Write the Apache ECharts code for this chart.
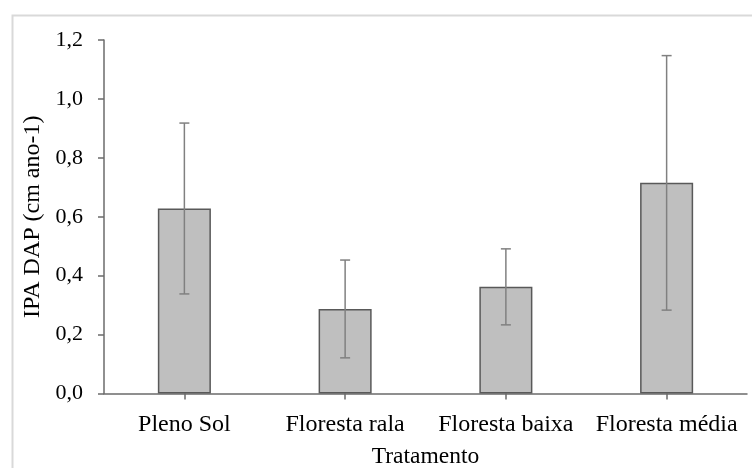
<!DOCTYPE html>
<html>
<head>
<meta charset="utf-8">
<script src="https://cdn.jsdelivr.net/npm/echarts@6/dist/echarts.min.js"></script>
<style>html,body{margin:0;padding:0;background:#fff}#c{width:752px;height:468px}</style>
</head>
<body>
<div id="c"></div>
<script>
const categories = ['Pleno Sol', 'Floresta rala', 'Floresta baixa', 'Floresta média'];
const means = [0.628, 0.287, 0.362, 0.715];
const errors = [0.290, 0.166, 0.129, 0.432];
const yTicks = [0, 0.2, 0.4, 0.6, 0.8, 1.0, 1.2];

const FONT = '"Liberation Serif", "Times New Roman", serif';
const chart = echarts.init(document.getElementById('c'));
const errData = categories.map((c, i) => [i, means[i] - errors[i], means[i] + errors[i]]);

chart.setOption({
  animation: false,
  backgroundColor: '#fff',
  graphic: [{
    type: 'rect', left: 10, top: 13, silent: true, z: -10,
    shape: { x: 0, y: 0, width: 800, height: 500 },
    style: { fill: 'none', stroke: '#d9d9d9', lineWidth: 2 }
  }],
  grid: { left: 104, right: 5, top: 40, bottom: 74.5, containLabel: false, outerBoundsMode: 'none' },
  xAxis: {
    type: 'category',
    data: categories,
    name: 'Tratamento',
    nameLocation: 'middle',
    nameGap: 51,
    nameTextStyle: { fontFamily: FONT, fontSize: 23.5, color: '#000' },
    axisLine: { lineStyle: { color: '#6b6b6b', width: 1.5 } },
    axisTick: { show: true, alignWithLabel: true, length: 6, lineStyle: { color: '#6b6b6b', width: 1.5 } },
    axisLabel: { fontFamily: FONT, fontSize: 24, color: '#000', margin: 19, interval: 0 },
    splitLine: { show: false }
  },
  yAxis: {
    type: 'value',
    min: 0, max: 1.2, interval: 0.2,
    name: 'IPA DAP (cm ano-1)',
    nameLocation: 'middle',
    nameGap: 58,
    nameRotate: 90,
    nameTextStyle: { fontFamily: FONT, fontSize: 24, color: '#000' },
    axisLine: { show: true, lineStyle: { color: '#6b6b6b', width: 1.5 } },
    axisTick: { show: true, length: 6, lineStyle: { color: '#6b6b6b', width: 1.5 } },
    axisLabel: {
      fontFamily: FONT, fontSize: 22, color: '#000', margin: 21,
      formatter: v => {
        const t = yTicks.find(x => Math.abs(x - v) < 1e-9);
        return (t !== undefined ? t : v).toFixed(1).replace('.', ',');
      }
    },
    splitLine: { show: false }
  },
  series: [
    {
      type: 'bar',
      data: means,
      barWidth: '33%',
      itemStyle: { color: '#bfbfbf', borderColor: '#595959', borderWidth: 1.5 }
    },
    {
      type: 'custom',
      data: errData,
      z: 5,
      renderItem: (params, api) => {
        const x = api.value(0);
        const lo = api.coord([x, api.value(1)]);
        const hi = api.coord([x, api.value(2)]);
        const cap = 5;
        const style = { stroke: '#808080', lineWidth: 1.5 };
        return {
          type: 'group',
          children: [
            { type: 'line', shape: { x1: hi[0], y1: hi[1], x2: lo[0], y2: lo[1] }, style },
            { type: 'line', shape: { x1: hi[0] - cap, y1: hi[1], x2: hi[0] + cap, y2: hi[1] }, style },
            { type: 'line', shape: { x1: lo[0] - cap, y1: lo[1], x2: lo[0] + cap, y2: lo[1] }, style }
          ]
        };
      }
    }
  ]
});
</script>
</body>
</html>
